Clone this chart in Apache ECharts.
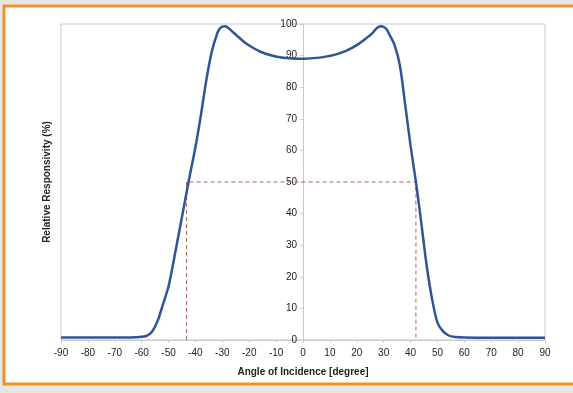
<!DOCTYPE html>
<html>
<head>
<meta charset="utf-8">
<script src="https://cdn.jsdelivr.net/npm/echarts@6/dist/echarts.min.js"></script>
<style>
html,body{margin:0;padding:0;background:#e6e6e6;}
#chart{width:573px;height:393px;}
</style>
</head>
<body>
<div id="chart"></div>
<script>
// Angle of incidence (degree) and relative responsivity (%)
const angles = [-90,-70,-62,-60,-58,-56,-54,-52,-50,-48,-46,-44,-42,-40,-38,-36,-34,-32,-31,-30,-29,-28,-27,-26,-24,-22,-20,-16,-12,-8,-4,0,4,8,12,16,20,24,26,27,28,29,30,31,32,34,36,38,40,42,44,46,48,50,52,54,56,60,70,90];
const responsivity = [0.8,0.8,0.9,1.0,1.4,2.8,6.2,11.5,17.0,25.5,34.5,43.5,52.5,61.0,71.0,82.0,91.0,96.8,98.5,99.2,99.3,98.9,98.2,97.4,95.9,94.4,93.2,91.3,90.1,89.4,89.1,89.0,89.2,89.6,90.3,91.5,93.3,95.8,97.3,98.3,99.0,99.3,99.1,98.4,96.9,93.5,87.0,74.5,61.5,50.0,37.0,23.5,13.0,5.5,2.8,1.5,1.0,0.8,0.7,0.7];
// 50 % crossing markers
const halfAngles = [-43.3, 42.0];
const halfLevel = 50;
const xTicks = {min:-90, max:90, interval:10};
const yTicks = {min:0, max:100, interval:10};

const curve = angles.map((a,i)=>[a, responsivity[i]]);
const guide = [[halfAngles[0],0],[halfAngles[0],halfLevel],[halfAngles[1],halfLevel],[halfAngles[1],0]];

const chart = echarts.init(document.getElementById('chart'));
const txt = '#222';
const font = 'Liberation Sans, Arial, sans-serif';
const gridLeft = 61, gridRight = 28, W = 573;
const plotW = W - gridLeft - gridRight;
// move the y axis to x = 0 of the value axis
const yOffset = -plotW * (0 - xTicks.min) / (xTicks.max - xTicks.min);
chart.setOption({
  backgroundColor:'#e6e6e6',
  animation:false,
  graphic:[
    {type:'rect', z:-10, shape:{x:4, y:6, width:580, height:378},
     style:{fill:'#ffffff', stroke:'#f39325', lineWidth:3}},
    {type:'text', x:47, y:182, rotation:Math.PI/2, z:10,
     style:{text:'Relative Responsivity (%)', fill:txt, font:'bold 10px '+font,
            align:'center', verticalAlign:'middle'}}
  ],
  grid:{left:gridLeft, right:gridRight, top:24, bottom:53, show:true, borderColor:'#c9c9c9', borderWidth:1, backgroundColor:'#fff'},
  xAxis:{
    type:'value', min:xTicks.min, max:xTicks.max, interval:xTicks.interval,
    name:'Angle of Incidence [degree]', nameLocation:'middle', nameGap:27,
    nameTextStyle:{color:txt, fontWeight:'bold', fontSize:10, fontFamily:font},
    axisLine:{show:true, lineStyle:{color:'#c9c9c9'}},
    axisTick:{show:true, length:3, inside:false, lineStyle:{color:'#c9c9c9'}},
    axisLabel:{color:txt, fontSize:10, fontFamily:font, margin:8},
    splitLine:{show:false}
  },
  yAxis:{
    type:'value', min:yTicks.min, max:yTicks.max, interval:yTicks.interval,
    position:'left', offset:yOffset,
    axisLine:{show:true, onZero:false, lineStyle:{color:'#c9c9c9'}},
    axisTick:{show:true, length:3, lineStyle:{color:'#c9c9c9'}},
    axisLabel:{color:txt, fontSize:10, fontFamily:font, margin:6},
    splitLine:{show:false}
  },
  series:[
    {type:'line', data:guide, symbol:'none', silent:true,
     lineStyle:{color:'#a8665e', width:1, type:[4,3]}, z:2},
    {type:'line', data:curve, symbol:'none', smooth:0.3, clip:false,
     lineStyle:{color:'#2f5597', width:2.5}, z:3}
  ]
});
</script>
</body>
</html>
